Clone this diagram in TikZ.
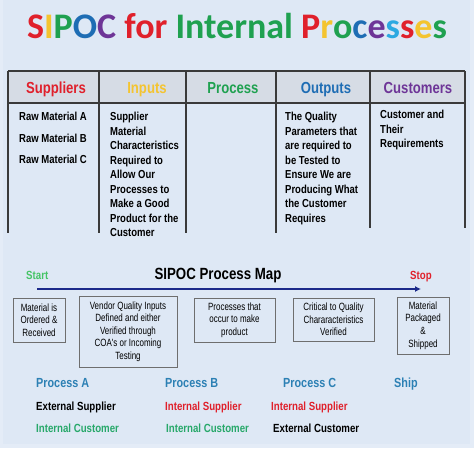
\documentclass[tikz,border=0pt]{standalone}
\usepackage{fontspec}
\setmainfont{Liberation Sans}
\newfontfamily\titlefont{Carlito}
\newfontfamily\narrowfont[FakeStretch=0.82]{Liberation Sans}
\newfontfamily\boxfont[FakeStretch=0.76]{Liberation Sans}
\usetikzlibrary{arrows.meta}

\definecolor{bgblue}{HTML}{DEE8F5}
\definecolor{bgedge}{HTML}{E4ECF7}
\definecolor{hdrgray}{HTML}{D6DCE5}
\definecolor{sred}{HTML}{E0202B}
\definecolor{syellow}{HTML}{F4C430}
\definecolor{sgreen}{HTML}{1FA150}
\definecolor{sblue}{HTML}{1E6DB4}
\definecolor{spurple}{HTML}{6E3597}
\definecolor{scyan}{HTML}{2CA9E1}
\definecolor{procblue}{HTML}{2C80B4}
\definecolor{navy}{HTML}{1C2A8A}
\definecolor{startgreen}{HTML}{45C466}
\definecolor{linegray}{HTML}{3A3A3A}
\definecolor{boxgray}{HTML}{6E6E6E}
\definecolor{custgreen}{HTML}{27A86A}

\tikzset{
	hd/.style = {font=\narrowfont\fontsize{16}{18}\selectfont\bfseries, inner sep=0pt, anchor=base},
	cell/.style = {font=\narrowfont\fontsize{11.6}{14.5}\selectfont\bfseries, align=left, anchor=north west, inner sep=0pt},
	stepbox/.style = {draw=boxgray, line width=.9pt, font=\boxfont\fontsize{10.5}{12.6}\selectfont, align=center, inner sep=0pt},
	lbl/.style = {font=\narrowfont\fontsize{11.8}{13}\selectfont\bfseries, anchor=base west, inner sep=0pt},
	proc/.style = {lbl, font=\narrowfont\fontsize{13.2}{15}\selectfont\bfseries, color=procblue},
	tab/.style = {line width=1.3pt, draw=linegray}
}

\begin{document}
\begin{tikzpicture}[x=1pt, y=-1pt]
		\useasboundingbox (0,0) rectangle (474,448);
		\fill [bgedge] (0,0) rectangle (474,448);
		\fill [bgblue] (3,0) rectangle (470,444);
		
		% title
		\node (T) at (237,26) [font=\titlefont\fontsize{36}{40}\selectfont\bfseries, inner sep=0pt]
		{\textcolor{sred}{S}\textcolor{syellow}{I}\textcolor{sgreen}{P}\textcolor{sblue}{O}\textcolor{spurple}{C}
		\textcolor{sred}{for} \textcolor{sgreen}{Internal}
		\textcolor{sred}{P}\textcolor{syellow}{r}\textcolor{sgreen}{o}\textcolor{sblue}{c}\textcolor{spurple}{e}\textcolor{scyan}{s}\textcolor{sred}{s}\textcolor{syellow}{e}\textcolor{sgreen}{s}};
		
		% table
		\fill [hdrgray] (8,71) rectangle (465,103);
		\draw [tab] (8,71) -- (465,71);
		\draw [tab] (8,103) -- (465,103);
		\draw [tab] (8,71) -- (8,233);
		\draw [tab] (99,71) -- (99,233);
		\draw [tab] (186,71) -- (186,233);
		\draw [tab] (276,71) -- (276,233);
		\draw [tab] (370,71) -- (370,228);
		\draw [tab] (465,71) -- (465,228);
		
		\node (S) at (56,93) [hd, color=sred] {Suppliers};
		\node (I) at (147,93) [hd, color=syellow] {Inputs};
		\node (P) at (233,93) [hd, color=sgreen] {Process};
		\node (O) at (326,93) [hd, color=sblue] {Outputs};
		\node (C) at (418,93) [hd, color=spurple] {Customers};
		
		\node (Sa) at (19,112) [cell] {Raw Material A};
		\node (Sb) at (19,134) [cell] {Raw Material B};
		\node (Sc) at (19,155) [cell] {Raw Material C};
		\node (Ia) at (110,112) [cell] {Supplier\\Material\\Characteristics\\Required to\\Allow Our\\Processes to\\Make a Good\\Product for the\\Customer};
		\node (Oa) at (285,112) [cell] {The Quality\\Parameters that\\are required to\\be Tested to\\Ensure We are\\Producing What\\the Customer\\Requires};
		\node (Ca) at (380,110) [cell] {Customer and\\Their\\Requirements};
		
		% process map
		\node (Start) at (26,279) [lbl, color=startgreen] {Start};
		\node (Map) at (218,279.5) [font=\narrowfont\fontsize{16.2}{18}\selectfont\bfseries, inner sep=0pt, anchor=base] {SIPOC Process Map};
		\node (Stop) at (410,279) [lbl, color=sred] {Stop};
		\coordinate (Ab) at (37,289);
		\coordinate (Ae) at (421,289);
		\draw [navy, line width=2pt, -{Latex[length=6pt,width=6pt]}] (Ab) -- (Ae);
		
		\node (B1) at (39,320) [stepbox, minimum width=52pt, minimum height=44pt] {Material is\\Ordered \&\\Received};
		\node (B2) at (128,331.5) [stepbox, minimum width=98pt, minimum height=71pt] {Vendor Quality Inputs\\Defined and either\\Verified through\\COA's or Incoming\\Testing};
		\node (B3) at (234.5,320) [stepbox, minimum width=81pt, minimum height=44pt] {Processes that\\occur to make\\product};
		\node (B4) at (333.5,319.5) [stepbox, minimum width=81pt, minimum height=43pt] {Critical to Quality\\Chararacteristics\\Verified};
		\node (B5) at (423,325.5) [stepbox, minimum width=52pt, minimum height=57pt] {Material\\Packaged\\\&\\Shipped};
		
		% suppliers and customers
		\node (PA) at (36,387.5) [proc] {Process A};
		\node (PB) at (165,387.5) [proc] {Process B};
		\node (PC) at (283,387.5) [proc] {Process C};
		\node (Sh) at (394,387.5) [proc] {Ship};
		
		\node (PAs) at (36,410) [lbl] {External Supplier};
		\node (PBs) at (165,410) [lbl, color=sred] {Internal Supplier};
		\node (PCs) at (271,410) [lbl, color=sred] {Internal Supplier};
		\node (PAc) at (36,432) [lbl, color=custgreen] {Internal Customer};
		\node (PBc) at (166,432) [lbl, color=custgreen] {Internal Customer};
		\node (PCc) at (273,432) [lbl] {External Customer};
\end{tikzpicture}
\end{document}
